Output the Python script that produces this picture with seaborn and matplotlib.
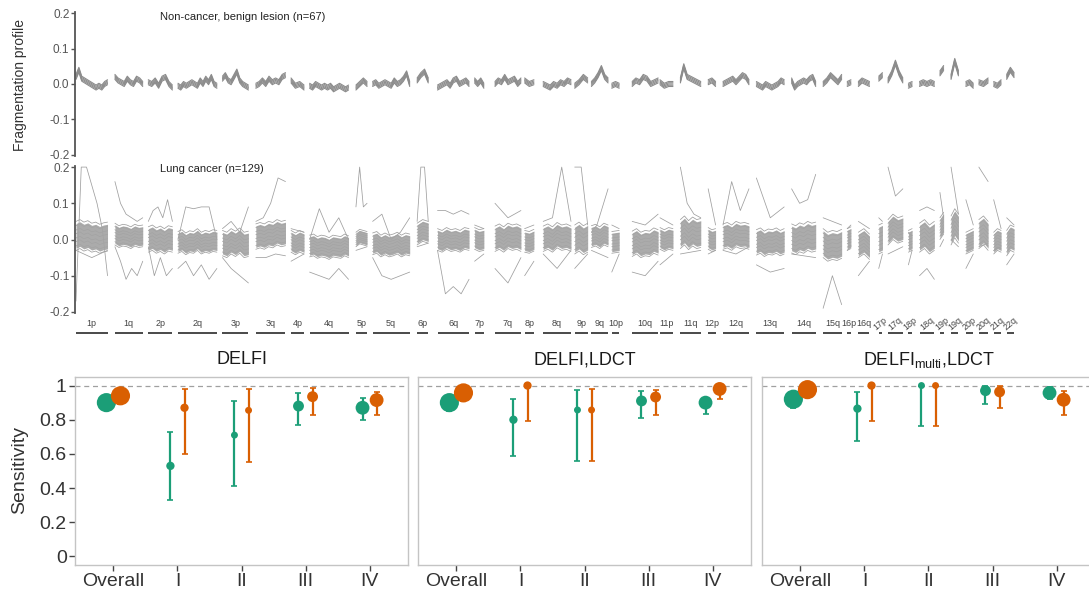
import numpy as np
import pandas as pd
import matplotlib
matplotlib.use("Agg")
import matplotlib.pyplot as plt
import matplotlib.transforms as mtransforms
import seaborn as sns

# ---- chromosome arms (bin index of first / last bin) ----
arms = ["1p", "1q", "2p", "2q", "3p", "3q", "4p", "4q", "5p", "5q", "6p", "6q",
        "7p", "7q", "8p", "8q", "9p", "9q", "10p", "10q", "11p", "11q", "12p", "12q",
        "13q", "14q", "15q", "16p", "16q", "17p", "17q", "18p", "18q", "19p", "19q",
        "20p", "20q", "21q", "22q"]
arm_start = [0, 21, 39, 55, 79, 97, 116, 126, 151, 160, 184, 195, 215, 226, 242, 252,
             269, 278, 289, 300, 315, 326, 341, 349, 367, 386, 403, 416, 422, 433, 438,
             449, 455, 466, 472, 480, 487, 495, 502]
arm_end = [17, 36, 52, 76, 93, 113, 123, 147, 157, 180, 190, 212, 220, 240, 247, 267,
           276, 287, 293, 314, 322, 337, 345, 363, 382, 399, 413, 418, 428, 435, 446,
           451, 463, 468, 476, 484, 492, 499, 506]

# ---- non-cancer profile (x 0.001), one list per arm ----
benign_center = [
    [20, 40, 15, 10, 5, 0, -5, -10, -5, -10, 0, 5], [20, 10, 5, 0, 15, 5, 0, 15, 10, 0],
    [5, 0, 10, -5, 15, 20, 0, -10], [-5, -10, 0, -5, 0, 5, 0, -5, 10, 0, 15, 5, 20, 0, -5],
    [15, 25, 10, 5, 20, 35, 10, 0, -5, -10], [-5, 0, 10, 0, 15, 5, 10, 5, 20, 25],
    [10, -5, 0, -10], [-5, -10, 0, -5, -10, -5, -10, -5, -15, -10, -5, -10, -15, -10],
    [-10, 0, 10, 0], [0, 5, -5, 0, 5, 0, -5, 10, 0, 5, 15, 30, 0],
    [10, 25, 35, 10], [-10, -5, 0, 5, -5, 10, 15, 0, 5, 10, 0],
    [10, 0, 10, -5], [0, 10, 5, 20, 5, 10, 15, 0, 10],
    [10, 0, 5], [0, -5, -10, 0, -5, 5, 0, 10, 5],
    [-5, 5, 20, 10], [0, 10, 25, 45, 20, 10],
    [-5, 0, -5], [0, 10, 5, 20, 15, 0, 5, 10],
    [5, -5, 0, 0], [10, 50, 20, 15, 10, 5, 0],
    [5, 10, 0], [0, 5, 10, 15, 5, 15, 25, 20, 5],
    [0, -5, -10, 0, -5, -10, -5, 0, 10, 5], [10, -10, 0, 5, 10, 5, 15, 20, 0],
    [0, 10, 25, 15, 5, 20], [0, 5], [0, 10, 5, 0], [15, 25], [10, 30, 60, 30, 10],
    [-5, 0], [0, 5, 0, 5, 0], [30, 45], [20, 65, 30], [0, 5, -5], [5, 0, 10],
    [0, -5, 5], [20, 40, 25],
]
benign_offsets = [-7, -3.5, 0, 3.5, 7]

# ---- lung cancer profile (x 0.001) ----
cancer_center = [
    [10, 15, 8, 12, 5, 8, 2, 6, 8], [15, 8, 12, 10, 5, 12, 8, 10],
    [0, 5, -3, 2, -5, 3, 0], [-8, -3, -12, -6, -8, 0, -10, -5, -8, -3, -5],
    [-10, -15, -5, -12, -3, -15, -12], [8, 12, 8, 15, 12, 20, 15, 18],
    [-5, -12, -5, -10], [-18, -15, -22, -18, -20, -25, -18, -20, -22, -15, -20],
    [0, 8, 5, 2], [-12, -8, -18, -12, -18, -15, -10, -18, -12, -15],
    [15, 25, 20], [0, -5, 3, -3, 0, -5, 3, 0], [3, -3, 0], [2, 8, 0, 10, 5, 8, 2],
    [-5, -8, -2], [2, 8, 0, 12, 5, 8, 2], [0, 8, -2, 5], [8, 12, 5, 15, 10],
    [-8, -5], [-12, -5, -15, -10, -12, -3, -8], [3, -3, 3, 0], [15, 25, 12, 22, 15, 18],
    [3, -3, 0], [8, 12, 5, 15, 10, 12, 8], [-8, -3, -12, -6, -8, -3, -10, -5],
    [3, -2, 6, 2, 10, 5, 8], [-10, -20, -15, -18, -12], [0, 5], [-15, -5, -20],
    [0, 5], [20, 35, 25, 30], [-5, 0], [5, 15, 0, 10], [30, 45], [25, 45, 30],
    [-10, 0], [15, 25, 10], [-10, 0, -5], [-10, 5, 0],
]
cancer_halfwidth = [40, 30, 35, 30, 35, 35, 30, 30, 20, 30, 30, 30, 30, 35, 30, 35, 40,
                    30, 30, 35, 30, 40, 30, 35, 35, 40, 40, 30, 35, 40, 35, 30, 40, 30,
                    40, 30, 40, 30, 35]
cancer_offsets = [-1.0, -0.7, -0.4, -0.15, 0.15, 0.4, 0.7, 1.0]
cancer_hi = [
    [-170, 200, 200, 150, 100, 30, -100], [160, 100, 70, 60, 50, 60], [50, 80, 90, 60, 110, 50],
    [0, 90, 85, 90, 90, 0], [30, 50, 20, 90], [50, 60, 100, 170, 160], [30, 20],
    [0, 85, 20, 60, 0], [90, 200, 90, 100], [50, 70, 0, 20, 60], [50, 200, 200, 50],
    [80, 80, 70, 80, 70], [40, 30], [100, 60, 80], [30, 40], [50, 60, 200, 50],
    [200, 200, 40], [20, 40, 90, 140], [40, 30], [50, 40, 70], [60, 40],
    [200, 100, 70, 60], [140, 40], [40, 160, 80, 140], [170, 60, 90],
    [140, 100, 110, 180], [60, 40], [30, 40], [50, 30], [60, 50], [200, 120, 140],
    [20, 10], [80, 90, 80], [130, 60], [200, 70], [110, 40], [200, 160], [110, 30],
    [60, 40],
]
cancer_lo = [
    [-30, -40, -50, -40, -30], [-20, -60, -110, -80, -100, -60], [-20, -100, -50, -100, -80],
    [-80, -60, -100, -70, -110, -80], [-50, -80, -100, -120], [-50, -50, -40, -45],
    [-60, -40], [-90, -100, -110, -80, -110], [-30, -20], [-50, -100, -110, -100, -90],
    [-20, -10], [-30, -150, -130, -150, -110], [-60, -40], [-80, -120, -50], [-100, -60],
    [-40, -80, -30], [-80, -40], [-30, -50], [-90, -40], [-90, -100, -60], [-70, -40],
    [-40, -30], [-40, -30], [-30, -40, -20], [-70, -90, -80], [-40, -50],
    [-190, -100, -180], [-30, -20], [-100, -60], [-80, -40], [-40, -20], [-70, -30],
    [-100, -80, -110], [-20, 0], [0, -20], [-80, -40], [-20, -10], [-30, -20], [-70, -40],
]

# ---- sensitivity by stage ----
stages = ["Overall", "I", "II", "III", "IV"]
stage_n = [129, 15, 7, 34, 62]
panel_titles = ["DELFI", "DELFI,LDCT", r"DELFI$_{\mathrm{multi}}$,LDCT"]
green_sens = [[0.90, 0.53, 0.71, 0.88, 0.87], [0.90, 0.80, 0.857, 0.91, 0.90],
              [0.92, 0.865, 1.0, 0.97, 0.957]]
green_lo = [[0.86, 0.33, 0.41, 0.77, 0.80], [0.85, 0.59, 0.56, 0.81, 0.835],
            [0.87, 0.676, 0.765, 0.89, 0.92]]
green_hi = [[0.94, 0.73, 0.91, 0.955, 0.93], [0.94, 0.92, 0.976, 0.966, 0.93],
            [0.95, 0.96, 1.0, 1.0, 0.99]]
orange_sens = [[0.94, 0.87, 0.855, 0.935, 0.915], [0.957, 1.0, 0.857, 0.933, 0.98],
               [0.976, 1.0, 1.0, 0.963, 0.917]]
orange_lo = [[0.89, 0.60, 0.555, 0.825, 0.83], [0.91, 0.79, 0.56, 0.83, 0.92],
             [0.94, 0.79, 0.765, 0.87, 0.83]]
orange_hi = [[0.97, 0.98, 0.98, 0.985, 0.965], [0.98, 1.0, 0.98, 0.975, 1.0],
             [0.99, 1.0, 1.0, 0.995, 0.97]]

GREEN, ORANGE = "#1B9E77", "#D95F02"

sns.set_theme(style="white")
plt.rcParams["font.family"] = ["Liberation Sans", "DejaVu Sans"]
plt.rcParams["mathtext.fontset"] = "custom"
plt.rcParams["mathtext.rm"] = "Liberation Sans"
plt.rcParams["mathtext.it"] = "Liberation Sans:italic"

W, H = 1089, 595
fig = plt.figure(figsize=(W / 100, H / 100), dpi=100)

# ---------- long-form profile table ----------
rows = []


def add_line(panel, lid, s, e, vals):
    xs = np.linspace(s, e, len(vals))
    for x, y in zip(xs, vals):
        rows.append((panel, lid, x, y / 1000))


lid = 0
for i in range(len(arms)):
    s, e = arm_start[i], arm_end[i]
    base = np.array(benign_center[i], dtype=float)
    for off in benign_offsets:
        add_line("benign", lid, s, e, base + off)
        lid += 1
    cb = np.array(cancer_center[i], dtype=float)
    add_line("cancer", lid, s, e, cancer_hi[i]); lid += 1
    add_line("cancer", lid, s, e, cancer_lo[i]); lid += 1
    for off in cancer_offsets:
        add_line("cancer", lid, s, e, cb + off * cancer_halfwidth[i])
        lid += 1

prof_df = pd.DataFrame(rows, columns=["panel", "line", "x", "y"])

ax_b = fig.add_axes([75 / W, 1 - 156 / H, 940 / W, 144 / H])
ax_c = fig.add_axes([75 / W, 1 - 313 / H, 940 / W, 147 / H])

for ax, panel, col, lw in [(ax_b, "benign", "#8c8c8c", 0.8), (ax_c, "cancer", "#9e9e9e", 0.55)]:
    sns.lineplot(data=prof_df[prof_df.panel == panel], x="x", y="y", units="line",
                 estimator=None, color=col, lw=lw, ax=ax, legend=False, sort=False)
    ax.set_xlim(-0.54, 506.5)
    ax.set_ylim(-0.203, 0.203)
    ax.set_xlabel("")
    ax.set_ylabel("")
    ax.set_xticks([])
    ax.set_yticks([-0.2, -0.1, 0.0, 0.1, 0.2])
    ax.set_yticklabels(["-0.2", "-0.1", "0.0", "0.1", "0.2"])
    ax.tick_params(axis="y", length=3, width=1, color="#555555", labelcolor="#555555",
                   labelsize=8.5, pad=1, left=True)
    for sp in ["top", "right", "bottom"]:
        ax.spines[sp].set_visible(False)
    ax.spines["left"].set_color("#555555")
    ax.spines["left"].set_linewidth(1.3)
    ax.patch.set_alpha(0)

# dense core of the cancer profiles
for i in range(len(arms)):
    cb = np.array(cancer_center[i], dtype=float) / 1000
    hw = cancer_halfwidth[i] / 1000
    xs = np.linspace(arm_start[i], arm_end[i], len(cb))
    ax_c.fill_between(xs, cb - 0.85 * hw, cb + 0.85 * hw, color="#a4a4a4", alpha=0.92,
                      lw=0, zorder=3)

ax_b.text(0.0904, 0.965, "Non-cancer, benign lesion (n=67)", transform=ax_b.transAxes,
          fontsize=8, ha="left", va="center", color="#222222")
ax_c.text(0.0904, 0.98, "Lung cancer (n=129)", transform=ax_c.transAxes,
          fontsize=8, ha="left", va="center", color="#222222")

fig.text(20 / W, 1 - 85 / H, "Fragmentation profile", rotation=90, ha="center",
         va="center", fontsize=10, color="#333333")

# chromosome arm labels and bars
trans = mtransforms.blended_transform_factory(ax_c.transData, ax_c.transAxes)
for i, arm in enumerate(arms):
    s, e = arm_start[i], arm_end[i]
    rot = 40 if i >= 29 else 0
    ax_c.text((s + e) / 2, -0.072, arm, transform=trans, ha="center", va="center",
              fontsize=6.5, rotation=rot, color="#444444")
    ax_c.plot([s, e], [-0.136, -0.136], transform=trans, clip_on=False,
              color="#3a3a3a", lw=1.3, solid_capstyle="butt")

# ---------- sensitivity panels ----------
lefts = [75, 418, 762]
for p in range(3):
    ax = fig.add_axes([lefts[p] / W, 30 / H, 333 / W, 188 / H])
    recs = []
    for g, sens, lo, hi, dx in [("green", green_sens[p], green_lo[p], green_hi[p], -0.11),
                                ("orange", orange_sens[p], orange_lo[p], orange_hi[p], 0.11)]:
        for j, st in enumerate(stages):
            recs.append((g, st, j + dx, sens[j], lo[j], hi[j], stage_n[j]))
    d = pd.DataFrame(recs, columns=["group", "stage", "xpos", "sens", "lo", "hi", "n"])
    ax.axhline(1.0, color="#a0a0a0", ls=(0, (4, 3)), lw=0.9, zorder=1)
    for g, col in [("green", GREEN), ("orange", ORANGE)]:
        dg = d[d.group == g]
        ax.errorbar(dg.xpos, dg.sens, yerr=[dg.sens - dg.lo, dg.hi - dg.sens], fmt="none",
                    ecolor=col, elinewidth=1.6, capsize=2, capthick=1.2, zorder=2)
    sns.scatterplot(data=d, x="xpos", y="sens", hue="group",
                    palette={"green": GREEN, "orange": ORANGE}, size="n",
                    sizes=(25, 190), size_norm=(7, 129), linewidth=0, legend=False,
                    ax=ax, zorder=3)
    ax.set_xlim(-0.6, 4.6)
    ax.set_ylim(-0.05, 1.05)
    ax.set_xticks(range(len(stages)))
    ax.set_xticklabels(stages)
    ax.set_xlabel("")
    ax.set_ylabel("")
    ax.set_yticks([0, 0.2, 0.4, 0.6, 0.8, 1.0])
    if p == 0:
        ax.set_yticklabels(["0", "0.2", "0.4", "0.6", "0.8", "1"])
        ax.tick_params(axis="y", left=True, length=4, width=1, color="#444444",
                       labelcolor="#333333", labelsize=14, pad=2)
    else:
        ax.tick_params(axis="y", left=False, labelleft=False)
    ax.tick_params(axis="x", bottom=True, length=4, width=1, color="#444444",
                   labelcolor="#333333", labelsize=14, pad=2)
    for sp in ax.spines.values():
        sp.set_color("#c4c4c4")
        sp.set_linewidth(1.0)
    ax.text(0.5, 1 + 17 / 188, panel_titles[p], transform=ax.transAxes, ha="center",
            va="center", fontsize=13, color="#1a1a1a")

fig.text(20 / W, 1 - 470 / H, "Sensitivity", rotation=90, ha="center", va="center",
         fontsize=14, color="#333333")

fig.savefig("out.png", dpi=100)
